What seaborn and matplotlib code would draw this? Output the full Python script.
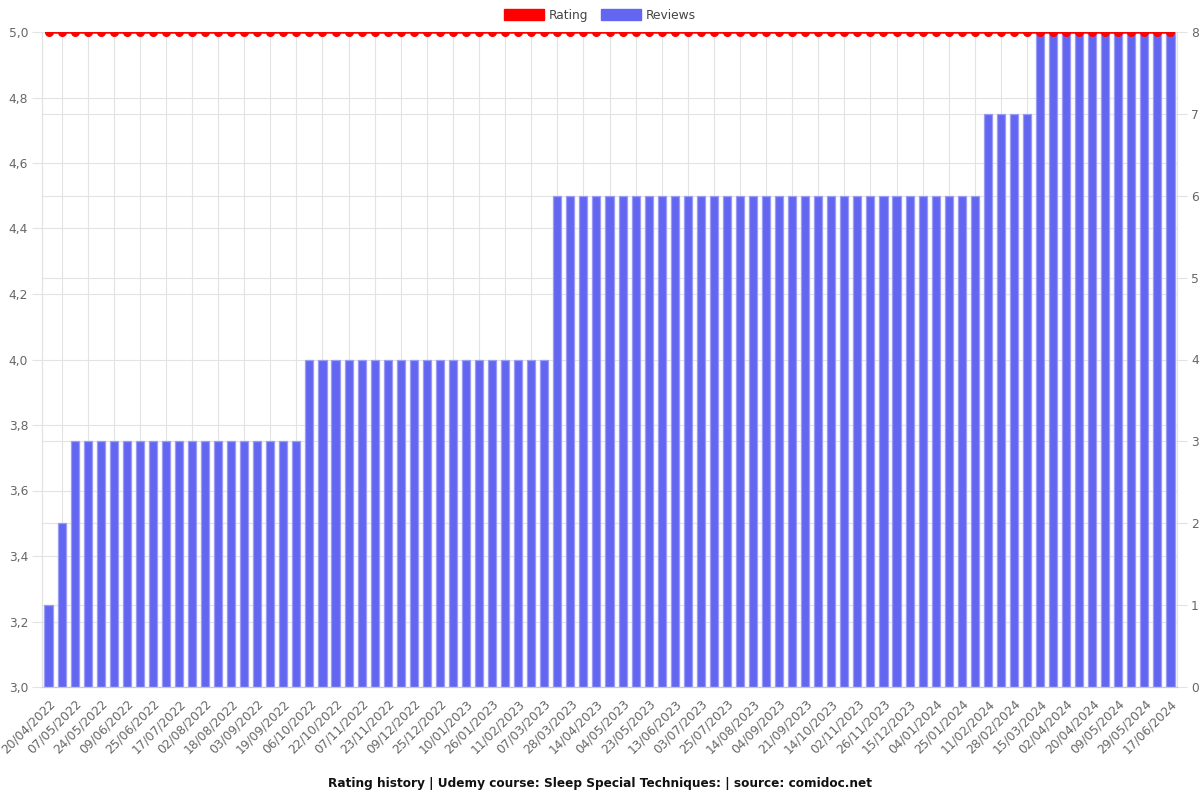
import matplotlib
matplotlib.use("Agg")
import matplotlib.pyplot as plt
import matplotlib.transforms as mtransforms
import seaborn as sns
import numpy as np
import pandas as pd
from matplotlib.patches import Patch
from matplotlib.ticker import FuncFormatter, FixedLocator

# ---- data ----
tick_labels = [
    "20/04/2022", "07/05/2022", "24/05/2022", "09/06/2022", "25/06/2022", "17/07/2022",
    "02/08/2022", "18/08/2022", "03/09/2022", "19/09/2022", "06/10/2022", "22/10/2022",
    "07/11/2022", "23/11/2022", "09/12/2022", "25/12/2022", "10/01/2023", "26/01/2023",
    "11/02/2023", "07/03/2023", "28/03/2023", "14/04/2023", "04/05/2023", "23/05/2023",
    "13/06/2023", "03/07/2023", "25/07/2023", "14/08/2023", "04/09/2023", "21/09/2023",
    "14/10/2023", "02/11/2023", "26/11/2023", "15/12/2023", "04/01/2024", "25/01/2024",
    "11/02/2024", "28/02/2024", "15/03/2024", "02/04/2024", "20/04/2024", "09/05/2024",
    "29/05/2024", "17/06/2024",
]

reviews = (
    [1, 2]
    + [3, 3, 3, 3, 3, 3, 3, 3, 3, 3, 3, 3, 3, 3, 3, 3, 3, 3]
    + [4, 4, 4, 4, 4, 4, 4, 4, 4, 4, 4, 4, 4, 4, 4, 4, 4, 4, 4]
    + [6, 6, 6, 6, 6, 6, 6, 6, 6, 6, 6, 6, 6, 6, 6, 6, 6, 6, 6, 6, 6, 6, 6, 6, 6, 6, 6, 6, 6, 6, 6, 6, 6]
    + [7, 7, 7, 7]
    + [8, 8, 8, 8, 8, 8, 8, 8, 8, 8, 8]
)
rating = [5.0] * len(reviews)

n = len(reviews)
df = pd.DataFrame({"idx": np.arange(n), "reviews": reviews, "rating": rating})

# ---- style ----
sns.set_theme(style="white")
plt.rcParams["font.family"] = ["DejaVu Sans"]

bar_color = "#6366F1"
edge_color = "#9A9CF6"
grid_color = "#E3E3E3"
text_color = "#666666"

fig = plt.figure(figsize=(12, 8), dpi=100)
ax = fig.add_axes([42 / 1200, 1 - 687 / 800, (1177 - 42) / 1200, (687 - 32) / 800])

# Bars (reviews) on primary axes
sns.barplot(data=df, x="idx", y="reviews", ax=ax, color=bar_color, width=0.62,
            saturation=1, edgecolor=edge_color, linewidth=0.9, zorder=2)

# Rating line on twin axes
ax2 = ax.twinx()
sns.lineplot(data=df, x="idx", y="rating", ax=ax2, color="#FF0000", linewidth=1.8,
             marker="o", markersize=6.5, markeredgewidth=0, zorder=5)
for ln in ax2.lines:
    ln.set_clip_on(True)

# ---- primary (reviews) axis: right side ----
ax.set_xlim(-0.5, n - 0.5)
ax.set_ylim(0, 8)
ax.yaxis.tick_right()
ax.set_yticks(range(0, 9))
ax.set_yticklabels([str(v) for v in range(0, 9)])
rating_ticks = [3.0, 3.2, 3.4, 3.6, 3.8, 4.0, 4.2, 4.4, 4.6, 4.8, 5.0]
ax.yaxis.set_minor_locator(FixedLocator([(r - 3.0) * 4 for r in rating_ticks]))

ax.set_xticks(np.arange(0, n, 2))
ax.set_xticklabels(tick_labels, rotation=45, ha="right", rotation_mode="anchor")
ax.xaxis.set_minor_locator(FixedLocator(np.arange(1, n, 2)))
offset = mtransforms.ScaledTranslation(5 / 100, -2 / 100, fig.dpi_scale_trans)
for lbl in ax.get_xticklabels():
    lbl.set_transform(lbl.get_transform() + offset)

ax.set_xlabel("")
ax.set_ylabel("")
ax.grid(False)
ax.grid(which="major", axis="y", color=grid_color, linewidth=0.8)
ax.grid(which="minor", axis="y", color=grid_color, linewidth=0.8)
ax.grid(which="minor", axis="x", color=grid_color, linewidth=0.8)
ax.set_axisbelow(True)

ax.tick_params(axis="x", which="major", length=0, pad=7, labelsize=8.8, labelcolor=text_color)
ax.tick_params(axis="x", which="minor", length=6, color=grid_color, width=0.8)
ax.tick_params(axis="y", which="major", length=7, color=grid_color, width=0.8,
               labelsize=8.8, labelcolor=text_color, pad=3,
               right=True, left=False, labelright=True, labelleft=False)
ax.tick_params(axis="y", which="minor", length=0, left=False, right=False)

ax.spines["top"].set_visible(False)
ax.spines["left"].set_color(grid_color)
ax.spines["right"].set_color(grid_color)
ax.spines["bottom"].set_color("#C8C8C8")
for s in ax.spines.values():
    s.set_linewidth(0.9)

# ---- twin (rating) axis: left side ----
ax2.set_ylim(3.0, 5.0)
ax2.set_xlim(-0.5, n - 0.5)
ax2.yaxis.tick_left()
ax2.set_yticks(rating_ticks)
ax2.yaxis.set_major_formatter(FuncFormatter(lambda v, p: f"{v:.1f}".replace(".", ",")))
ax2.tick_params(axis="y", length=7, color=grid_color, width=0.8, labelsize=8.8,
                labelcolor=text_color, pad=3, left=True, right=False,
                labelleft=True, labelright=False)
ax2.set_ylabel("")
ax2.set_xlabel("")
ax2.grid(False)
for s in ax2.spines.values():
    s.set_visible(False)

# Legend
handles = [Patch(facecolor="#FF0000", edgecolor="#FF0000", label="Rating"),
           Patch(facecolor=bar_color, edgecolor=bar_color, label="Reviews")]
fig.legend(handles=handles, loc="upper center", bbox_to_anchor=(0.5, 1.003), ncol=2,
           frameon=False, fontsize=8.8, handlelength=3.3, handleheight=1.1,
           handletextpad=0.4, columnspacing=1.0, labelcolor="#444444")

# Title at bottom
fig.text(0.5, 1 - 783 / 800, "Rating history | Udemy course: Sleep Special Techniques: | source: comidoc.net",
         ha="center", va="center", fontsize=8.7, fontweight="bold", color="#111111")

fig.savefig("out.png", dpi=100)
